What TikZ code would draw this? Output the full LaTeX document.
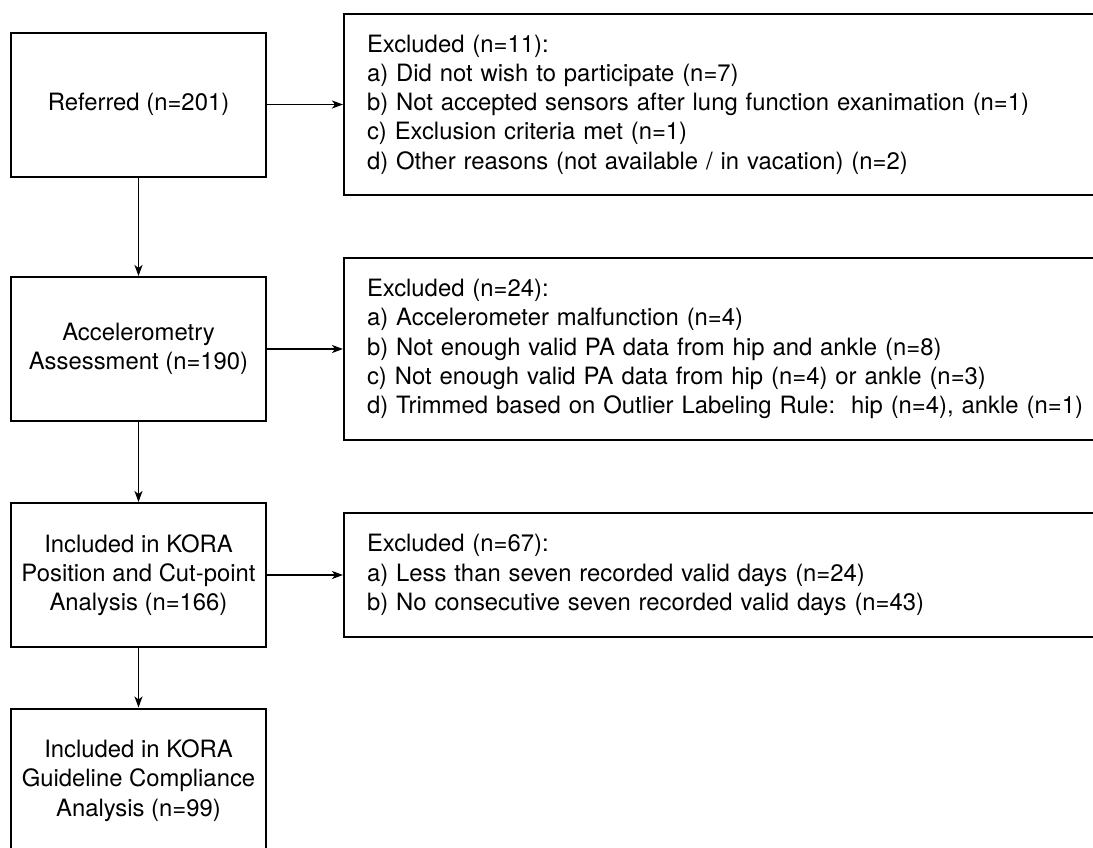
\documentclass[tikz,border=0pt]{standalone}
\usepackage{fontspec}
\setmainfont{TeX Gyre Heros}
\usetikzlibrary{arrows.meta}
\begin{document}
\begin{tikzpicture}[x=1pt,y={(0pt,-1pt)},
  every node/.style={font=\fontsize{23.85pt}{29.3pt}\selectfont},
  lbox/.style={draw,line width=2pt,minimum width=255pt,minimum height=144pt,align=center,inner sep=0pt},
  rbox/.style={draw,line width=2pt,anchor=west,text width=800pt,inner xsep=23pt,inner ysep=0pt,align=left},
  arr/.style={line width=1.8pt,-{Stealth[length=11pt,width=8pt,inset=3pt]}}]
\useasboundingbox (0,0) rectangle (1093,847);
\clip (0,0) rectangle (1093,847);
\node[lbox] (ref) at (138.5,104.5) {Referred (n=201)};
\node[lbox] (acc) at (138.5,349) {Accelerometry\\Assessment (n=190)};
\node[lbox] (pos) at (138.5,575) {Included in KORA\\Position and Cut-point\\Analysis (n=166)};
\node[lbox] (gui) at (138.5,780.5) {Included in KORA\\Guideline Compliance\\Analysis (n=99)};
\node[rbox,minimum height=181pt] (ex1) at (343,104.5) {Excluded (n=11):\\a) Did not wish to participate (n=7)\\b) Not accepted sensors after lung function exanimation (n=1)\\c) Exclusion criteria met (n=1)\\d) Other reasons (not available / in vacation) (n=2)};
\node[rbox,minimum height=182pt] (ex2) at (343,349) {Excluded (n=24):\\a) Accelerometer malfunction (n=4)\\b) Not enough valid PA data from hip and ankle (n=8)\\c) Not enough valid PA data from hip (n=4) or ankle (n=3)\\d) Trimmed based on Outlier Labeling Rule:\ \ hip (n=4), ankle (n=1)};
\node[rbox,minimum height=124pt] (ex3) at (343,575) {Excluded (n=67):\\a) Less than seven recorded valid days (n=24)\\b) No consecutive seven recorded valid days (n=43)};
\draw[arr] (ref) -- (acc);
\draw[arr] (acc) -- (pos);
\draw[arr] (pos) -- (gui);
\draw[arr] (ref) -- (ex1);
\draw[arr] (acc) -- (ex2);
\draw[arr] (pos) -- (ex3);
\end{tikzpicture}
\end{document}
